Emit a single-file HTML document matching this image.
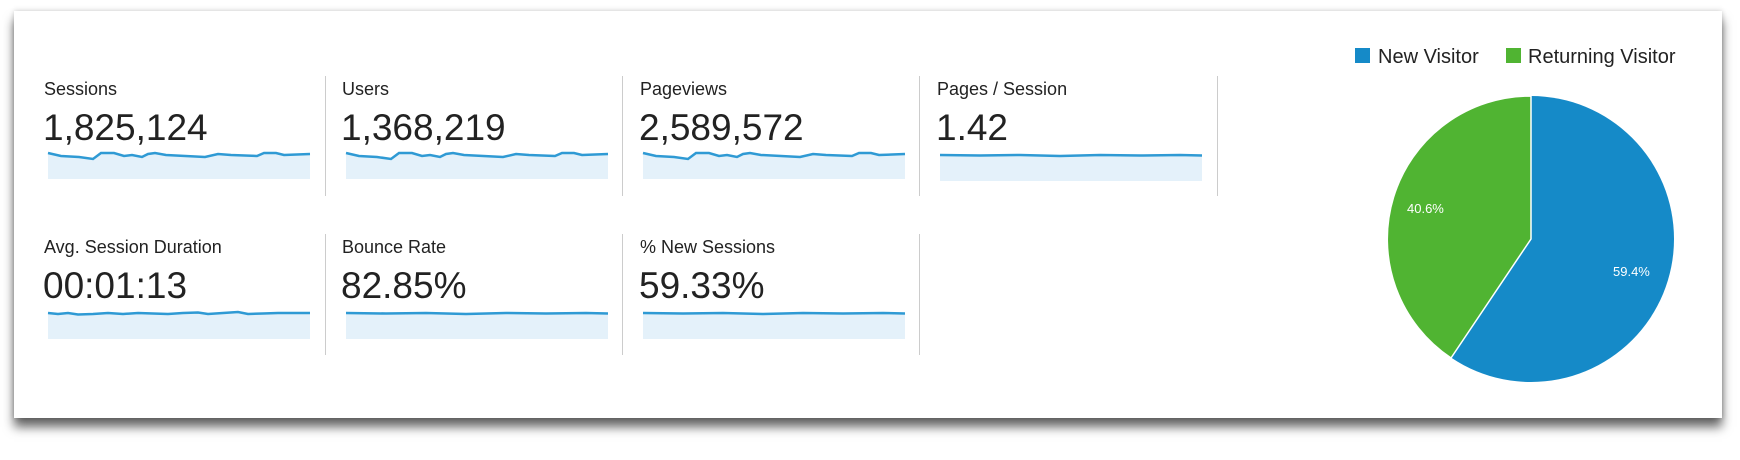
<!DOCTYPE html>
<html><head><meta charset="utf-8">
<style>
html,body{margin:0;padding:0;background:#fff;width:1740px;height:460px;overflow:hidden;font-family:"Liberation Sans",Arial,sans-serif;}
.card{position:absolute;left:14px;top:11px;width:1708px;height:407px;background:#fff;box-shadow:0 9px 10px rgba(0,0,0,0.6),0 0 5px rgba(0,0,0,0.2);}
.lbl{position:absolute;font-size:18px;color:#222;line-height:1;}
.num{position:absolute;font-size:37px;color:#222;line-height:1;}
.div{position:absolute;width:1px;background:#ccc;}
</style></head><body>
<div class="card"></div>

<div class="lbl" style="left:44px;top:80px">Sessions</div>
<div class="num" style="left:43px;top:109px">1,825,124</div>
<div class="lbl" style="left:342px;top:80px">Users</div>
<div class="num" style="left:341px;top:109px">1,368,219</div>
<div class="lbl" style="left:640px;top:80px">Pageviews</div>
<div class="num" style="left:639px;top:109px">2,589,572</div>
<div class="lbl" style="left:937px;top:80px">Pages / Session</div>
<div class="num" style="left:936px;top:109px">1.42</div>

<div class="lbl" style="left:44px;top:238px">Avg. Session Duration</div>
<div class="num" style="left:43px;top:267px">00:01:13</div>
<div class="lbl" style="left:342px;top:238px">Bounce Rate</div>
<div class="num" style="left:341px;top:267px">82.85%</div>
<div class="lbl" style="left:640px;top:238px">% New Sessions</div>
<div class="num" style="left:639px;top:267px">59.33%</div>

<div class="div" style="left:325px;top:76px;height:120px"></div>
<div class="div" style="left:622px;top:76px;height:120px"></div>
<div class="div" style="left:919px;top:76px;height:120px"></div>
<div class="div" style="left:1217px;top:76px;height:120px"></div>
<div class="div" style="left:325px;top:234px;height:121px"></div>
<div class="div" style="left:622px;top:234px;height:121px"></div>
<div class="div" style="left:919px;top:234px;height:121px"></div>

<svg width="1740" height="460" style="position:absolute;left:0;top:0" xmlns="http://www.w3.org/2000/svg">
<defs>
<g id="sp1">
<path d="M0,0 L13,3 L31,4 L45,6 L53,0 L66,0 L76,3 L84,2 L94,4 L100,1 L107,0 L118,2 L157,4 L170,1 L183,2 L209,3 L216,0 L228,0 L236,2 L262,1 L262,26 L0,26 Z" fill="#e4f1fa"/>
<path d="M0,0 L13,3 L31,4 L45,6 L53,0 L66,0 L76,3 L84,2 L94,4 L100,1 L107,0 L118,2 L157,4 L170,1 L183,2 L209,3 L216,0 L228,0 L236,2 L262,1" fill="none" stroke="#2f9ad4" stroke-width="2.5"/>
</g>
<g id="spf">
<rect x="0" y="0" width="262" height="26" fill="#e4f1fa"/>
<path d="M0,0 L40,0.5 L80,0 L120,1 L160,0 L200,0.5 L240,0 L262,0.5" fill="none" stroke="#2f9ad4" stroke-width="2.5"/>
</g>
<g id="spa">
<path d="M0,0 L10,1 L20,0 L30,1.5 L45,1 L60,0 L75,1 L90,0 L105,0.5 L120,1 L135,0 L150,-0.5 L160,1 L175,0 L190,-1 L200,1 L215,0.5 L230,0 L262,0 L262,26 L0,26Z" fill="#e4f1fa"/>
<path d="M0,0 L10,1 L20,0 L30,1.5 L45,1 L60,0 L75,1 L90,0 L105,0.5 L120,1 L135,0 L150,-0.5 L160,1 L175,0 L190,-1 L200,1 L215,0.5 L230,0 L262,0" fill="none" stroke="#2f9ad4" stroke-width="2.5"/>
</g>
</defs>
<use href="#sp1" x="48" y="153"/>
<use href="#sp1" x="346" y="153"/>
<use href="#sp1" x="643" y="153"/>
<use href="#spf" x="940" y="155"/>
<use href="#spa" x="48" y="313"/>
<use href="#spf" x="346" y="313"/>
<use href="#spf" x="643" y="313"/>

<rect x="1355" y="48" width="15" height="15" fill="#158ac8"/>
<text x="1378" y="63" font-size="20" fill="#222" font-family="Liberation Sans, Arial, sans-serif">New Visitor</text>
<rect x="1506" y="48" width="15" height="15" fill="#50b432"/>
<text x="1528" y="63" font-size="20" fill="#222" font-family="Liberation Sans, Arial, sans-serif">Returning Visitor</text>

<circle cx="1531" cy="239" r="143" fill="#158ac8"/>
<path d="M1531,239 L1531,96 A143,143 0 0,0 1451,358 Z" fill="#50b432" stroke="#fff" stroke-width="1.5"/>
<text x="1407" y="213" font-size="13" fill="#fff" font-family="Liberation Sans, Arial, sans-serif">40.6%</text>
<text x="1613" y="276" font-size="13" fill="#fff" font-family="Liberation Sans, Arial, sans-serif">59.4%</text>
</svg>
</body></html>
